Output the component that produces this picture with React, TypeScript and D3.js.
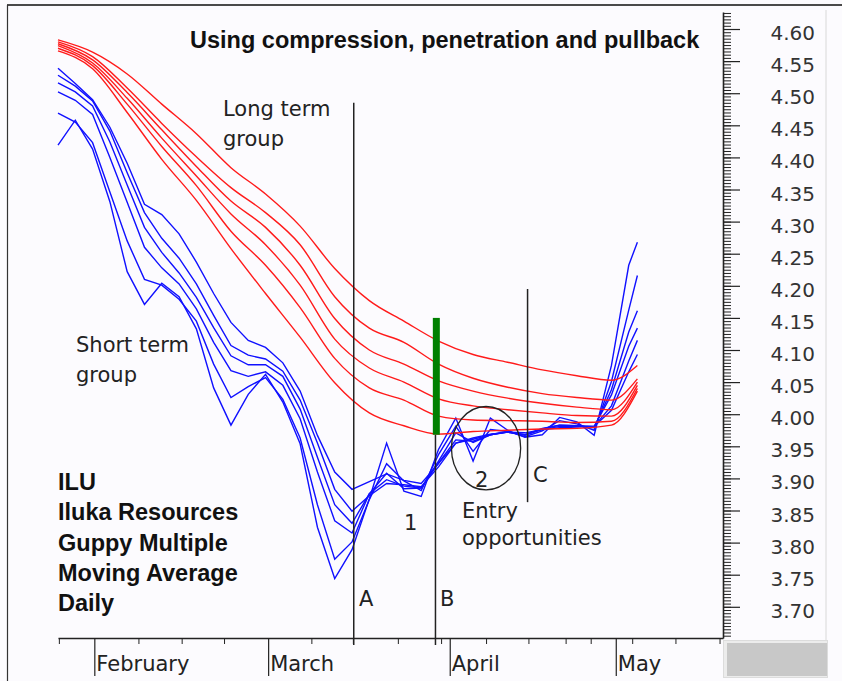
import React, { useEffect, useRef } from "react";
import * as d3 from "d3";

// trading day index (0 = first bar on the chart)
const longDays = [0, 4, 8, 12, 16, 20, 24, 28, 32, 36, 40, 44, 48, 52, 56, 60, 64, 67];
const shortDays = [0, 2, 4, 6, 8, 10, 12, 14, 16, 18, 20, 22, 24, 26, 28, 30, 32, 34, 36, 38, 40, 42, 44, 46, 48, 50, 52, 54, 56, 58, 60, 62, 64, 66, 67];

// long term group (red)
const ema60 = [4.583, 4.564, 4.530, 4.483, 4.437, 4.384, 4.343, 4.293, 4.227, 4.177, 4.145, 4.114, 4.093, 4.081, 4.069, 4.060, 4.053, 4.076];
const ema50 = [4.580, 4.557, 4.508, 4.453, 4.401, 4.353, 4.314, 4.264, 4.183, 4.134, 4.112, 4.078, 4.056, 4.042, 4.032, 4.026, 4.022, 4.055];
const ema45 = [4.577, 4.552, 4.501, 4.443, 4.386, 4.332, 4.291, 4.232, 4.149, 4.100, 4.078, 4.052, 4.036, 4.025, 4.017, 4.011, 4.007, 4.050];
const ema40 = [4.574, 4.547, 4.492, 4.430, 4.371, 4.312, 4.264, 4.201, 4.117, 4.072, 4.050, 4.024, 4.013, 4.007, 4.002, 3.998, 3.997, 4.045];
const ema35 = [4.570, 4.543, 4.483, 4.417, 4.356, 4.285, 4.232, 4.166, 4.087, 4.041, 4.022, 3.997, 3.991, 3.990, 3.989, 3.987, 3.989, 4.040];
const ema30 = [4.566, 4.538, 4.470, 4.397, 4.333, 4.258, 4.188, 4.120, 4.049, 4.002, 3.982, 3.969, 3.973, 3.975, 3.977, 3.978, 3.983, 4.036];

// short term group (blue)
const ema3 = [4.419, 4.458, 4.413, 4.331, 4.222, 4.171, 4.204, 4.183, 4.133, 4.041, 3.983, 4.031, 4.062, 4.019, 3.954, 3.824, 3.744, 3.789, 3.868, 3.955, 3.880, 3.872, 3.945, 3.994, 3.927, 3.994, 3.975, 3.964, 3.968, 3.995, 3.988, 3.967, 4.076, 4.232, 4.268];
const ema5 = [4.469, 4.455, 4.423, 4.346, 4.270, 4.210, 4.201, 4.179, 4.145, 4.078, 4.026, 4.043, 4.057, 4.023, 3.963, 3.859, 3.774, 3.801, 3.867, 3.923, 3.896, 3.881, 3.937, 3.981, 3.942, 3.976, 3.973, 3.965, 3.974, 3.990, 3.985, 3.975, 4.051, 4.162, 4.216];
const ema8 = [4.502, 4.489, 4.467, 4.400, 4.330, 4.260, 4.228, 4.203, 4.164, 4.112, 4.068, 4.059, 4.066, 4.045, 3.993, 3.910, 3.834, 3.815, 3.876, 3.908, 3.884, 3.885, 3.927, 3.971, 3.956, 3.968, 3.973, 3.967, 3.977, 3.983, 3.982, 3.979, 4.038, 4.128, 4.161];
const ema10 = [4.516, 4.502, 4.480, 4.424, 4.357, 4.291, 4.252, 4.220, 4.182, 4.135, 4.091, 4.077, 4.077, 4.059, 4.008, 3.933, 3.859, 3.830, 3.876, 3.898, 3.888, 3.885, 3.924, 3.960, 3.958, 3.968, 3.972, 3.968, 3.978, 3.983, 3.982, 3.981, 4.030, 4.106, 4.134];
const ema12 = [4.528, 4.511, 4.488, 4.441, 4.376, 4.314, 4.274, 4.243, 4.203, 4.154, 4.107, 4.092, 4.086, 4.067, 4.022, 3.955, 3.883, 3.849, 3.873, 3.892, 3.890, 3.887, 3.918, 3.955, 3.961, 3.968, 3.972, 3.968, 3.976, 3.981, 3.981, 3.981, 4.013, 4.083, 4.115];
const ema15 = [4.539, 4.515, 4.490, 4.447, 4.391, 4.327, 4.311, 4.281, 4.237, 4.188, 4.143, 4.115, 4.104, 4.080, 4.036, 3.967, 3.910, 3.883, 3.895, 3.907, 3.897, 3.892, 3.923, 3.955, 3.963, 3.969, 3.972, 3.971, 3.976, 3.979, 3.980, 3.981, 4.006, 4.066, 4.093];

// axes
const priceTicks = [4.6, 4.55, 4.5, 4.45, 4.4, 4.35, 4.3, 4.25, 4.2, 4.15, 4.1, 4.05, 4.0, 3.95, 3.9, 3.85, 3.8, 3.75, 3.7];
const weekTicks = [0.1, 9.3, 14.3, 19.2, 29.3, 34.1, 39.3, 44.3, 49.5, 54.4, 58.7, 61.6, 66.4, 71.4, 76.5];
const months = ["February", "March", "April", "May"];
const monthDays = [4.2, 24.3, 45.3, 64.5];

// annotations
const markerDays = [34.2, 43.65, 54.3]; // A, B, C
const breakout = { day: 43.75, high: 4.15, low: 3.968 };
const entryZone = { day: 49.5, price: 3.947, halfDays: 4.0, halfPrice: 0.065 };
const infoLines = ["ILU", "Iluka Resources", "Guppy Multiple", "Moving Average", "Daily"];

const REGULAR = "'DejaVu Sans', sans-serif";
const BOLD = "'Liberation Sans', Arial, sans-serif";

export default function App() {
  const svgRef = useRef<SVGSVGElement>(null);

  useEffect(() => {
    const width = 842;
    const height = 681;
    const svg = d3.select(svgRef.current)
      .attr("width", width)
      .attr("height", height);

    // remove old elements before rebuild
    svg.selectAll("*").remove();

    const x = d3.scaleLinear().domain([0, 76.9]).range([58, 723]);
    const y = d3.scaleLinear().domain([3.6514, 4.6265]).range([638, 12]);
    const axisY = y.range()[0];

    // background and frame
    svg.append("rect").attr("width", width).attr("height", height).attr("fill", "#fcfbfe");
    svg.append("line").attr("x1", 7).attr("x2", width).attr("y1", 5).attr("y2", 5)
      .attr("stroke", "#4a4a4a").attr("stroke-width", 2);
    svg.append("line").attr("x1", 7.5).attr("x2", 7.5).attr("y1", 5).attr("y2", height)
      .attr("stroke", "#333").attr("stroke-width", 1.2);
    svg.append("line").attr("x1", 826).attr("x2", 826).attr("y1", 10).attr("y2", 640)
      .attr("stroke", "#d8d8d8").attr("stroke-width", 1);
    svg.append("rect").attr("x", 723.5).attr("y", 640.5).attr("width", 104).attr("height", 37)
      .attr("fill", "#ececec").attr("stroke", "#dcdcdc");
    svg.append("rect").attr("x", 727).attr("y", 643).attr("width", 100).attr("height", 33)
      .attr("fill", "#c8c8c8");

    // moving average lines
    const shortLine = d3.line<number>()
      .x((d, i) => x(shortDays[i]))
      .y(d => y(d));
    const longLine = d3.line<number>()
      .x((d, i) => x(longDays[i]))
      .y(d => y(d))
      .curve(d3.curveMonotoneX);

    svg.append("g")
      .selectAll("path")
      .data([ema3, ema5, ema8, ema10, ema12, ema15])
      .join("path")
      .attr("d", d => shortLine(d))
      .attr("fill", "none")
      .attr("stroke", "#1010ff")
      .attr("stroke-width", 1.4);

    svg.append("g")
      .selectAll("path")
      .data([ema60, ema50, ema45, ema40, ema35, ema30])
      .join("path")
      .attr("d", d => longLine(d))
      .attr("fill", "none")
      .attr("stroke", "#ff1a1a")
      .attr("stroke-width", 1.4);

    // right price axis
    const minorTicks = d3.range(0, 195).map(i => +(3.655 + i * 0.005).toFixed(3));
    const yMinor = svg.append("g")
      .attr("transform", `translate(${x.range()[1]},0)`)
      .call(d3.axisRight(y).tickValues(minorTicks).tickSize(8).tickSizeOuter(0).tickFormat(() => ""));
    yMinor.select(".domain").attr("stroke", "#222").attr("stroke-width", 1.6);
    yMinor.selectAll(".tick line").attr("stroke", "#222");

    const yMajor = svg.append("g")
      .attr("transform", `translate(${x.range()[1]},0)`)
      .call(d3.axisRight(y).tickValues(priceTicks).tickSize(17).tickFormat(() => ""));
    yMajor.select(".domain").remove();
    yMajor.selectAll(".tick line").attr("stroke", "#222").attr("stroke-width", 1.2);

    svg.append("g")
      .selectAll("text")
      .data(priceTicks)
      .join("text")
      .attr("x", 815)
      .attr("y", d => y(d) + 11)
      .attr("text-anchor", "end")
      .attr("font-family", REGULAR)
      .attr("font-size", 20)
      .attr("fill", "#333")
      .text(d => d.toFixed(2));

    // bottom time axis
    const xWeek = svg.append("g")
      .attr("transform", `translate(0,${axisY})`)
      .call(d3.axisBottom(x).tickValues(weekTicks).tickSize(6).tickSizeOuter(0).tickFormat(() => ""));
    xWeek.select(".domain").attr("stroke", "#222").attr("stroke-width", 1.6);
    xWeek.selectAll(".tick line").attr("stroke", "#222");

    const xMonth = svg.append("g")
      .attr("transform", `translate(0,${axisY})`)
      .call(d3.axisBottom(x).tickValues(monthDays).tickSize(38).tickFormat(() => ""));
    xMonth.select(".domain").remove();
    xMonth.selectAll(".tick line").attr("stroke", "#222").attr("stroke-width", 1.2);

    svg.append("g")
      .selectAll("text")
      .data(months)
      .join("text")
      .attr("x", (d, i) => x(monthDays[i]) + 2)
      .attr("y", 671)
      .attr("font-family", REGULAR)
      .attr("font-size", 21)
      .attr("fill", "#222")
      .text(d => d);

    // markers A, B, C
    const markerTops = [4.485, breakout.low, 4.195];
    const markerBottoms = [axisY + 7, axisY + 7, y(3.863)];
    svg.append("g")
      .selectAll("line")
      .data(markerDays)
      .join("line")
      .attr("x1", d => x(d))
      .attr("x2", d => x(d))
      .attr("y1", (d, i) => y(markerTops[i]))
      .attr("y2", (d, i) => markerBottoms[i])
      .attr("stroke", "#222")
      .attr("stroke-width", 1.5);

    // penetration bar
    svg.append("rect")
      .attr("x", x(breakout.day) - 3.5)
      .attr("y", y(breakout.high))
      .attr("width", 7)
      .attr("height", y(breakout.low) - y(breakout.high))
      .attr("fill", "#008000");

    // entry zone
    svg.append("ellipse")
      .attr("cx", x(entryZone.day))
      .attr("cy", y(entryZone.price))
      .attr("rx", x(entryZone.day + entryZone.halfDays) - x(entryZone.day))
      .attr("ry", y(entryZone.price - entryZone.halfPrice) - y(entryZone.price))
      .attr("fill", "none")
      .attr("stroke", "#222")
      .attr("stroke-width", 1.3);

    // text
    const notes: [string, number, number][] = [
      ["Long term", 223, 116],
      ["group", 223, 146],
      ["Short term", 76, 352],
      ["group", 76, 382],
      ["Entry", 462, 518],
      ["opportunities", 462, 545],
      ["1", 404, 530],
      ["2", 475, 487],
      ["C", 533, 482],
      ["A", 359, 606],
      ["B", 440, 606],
    ];
    svg.append("g")
      .selectAll("text")
      .data(notes)
      .join("text")
      .attr("x", d => d[1])
      .attr("y", d => d[2])
      .attr("font-family", REGULAR)
      .attr("font-size", 21)
      .attr("fill", "#222")
      .text(d => d[0]);

    svg.append("text")
      .attr("x", 190)
      .attr("y", 48)
      .attr("font-family", BOLD)
      .attr("font-weight", "bold")
      .attr("font-size", 23.5)
      .attr("fill", "#111")
      .text("Using compression, penetration and pullback");

    svg.append("g")
      .selectAll("text")
      .data(infoLines)
      .join("text")
      .attr("x", 58)
      .attr("y", (d, i) => 490 + i * 30.3)
      .attr("font-family", BOLD)
      .attr("font-weight", "bold")
      .attr("font-size", 23.5)
      .attr("fill", "#111")
      .text(d => d);
  }, []);

  return (
    <svg ref={svgRef} style={{ position: "absolute", left: 0, top: 0 }} />
  );
}
